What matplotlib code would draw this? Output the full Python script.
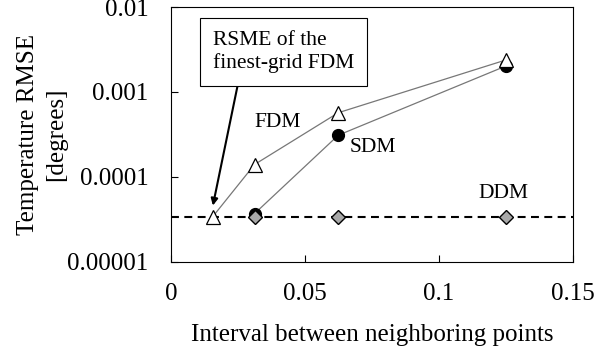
import matplotlib as mpl
mpl.use('Agg')
import matplotlib.pyplot as plt

# data
fdm_x = [0.015625, 0.03125, 0.0625, 0.125]
fdm_y = [3.4e-5, 1.4e-4, 5.7e-4, 2.38e-3]

sdm_x = [0.03125, 0.0625, 0.125]
sdm_y = [3.7e-5, 3.1e-4, 2.02e-3]

ddm_x = [0.03125, 0.0625, 0.125]
ddm_y = [3.4e-5, 3.4e-5, 3.4e-5]

finest_fdm = 3.4e-5

xticks = [0, 0.05, 0.1, 0.15]
xtick_labels = ['0', '0.05', '0.1', '0.15']
yticks = [1e-5, 1e-4, 1e-3, 1e-2]
ytick_labels = ['0.00001', '0.0001', '0.001', '0.01']

plt.rcParams['font.family'] = ['Liberation Serif', 'DejaVu Serif']
fs = 18      # axis text
fs_in = 15.5  # text inside the plot

fig = plt.figure(figsize=(6.1, 3.52), dpi=100)
ax = fig.add_axes([0.280, 0.256, 0.659, 0.724])

ax.axhline(finest_fdm, color='black', ls=(0, (3.8, 2.6)), lw=1.5, zorder=1)

ax.plot(sdm_x, sdm_y, color='#777777', lw=0.9, marker='o', ms=8.5,
        mfc='black', mec='black', zorder=2)
ax.plot(ddm_x, ddm_y, ls='none', marker='D', ms=7, mfc='#a8a8a8',
        mec='black', mew=1.0, zorder=3)
ax.plot(fdm_x, fdm_y, color='#777777', lw=0.9, marker='^', ms=10,
        mfc='white', mec='black', mew=0.9, zorder=4)

ax.text(0.0397, 4.4e-4, 'FDM', fontsize=fs_in, ha='center', va='center')
ax.text(0.0753, 2.25e-4, 'SDM', fontsize=fs_in, ha='center', va='center')
ax.text(0.1243, 6.45e-5, 'DDM', fontsize=fs_in, ha='center', va='center')

ax.annotate('RSME of the\nfinest-grid FDM', xy=(0.0157, 4.6e-5),
            xytext=(0.0422, 2.95e-3), fontsize=fs_in, ha='center', va='center',
            multialignment='left', linespacing=1.25,
            bbox=dict(boxstyle='square,pad=0.6', fc='white', ec='black', lw=0.8),
            arrowprops=dict(arrowstyle='-|>', color='black', lw=1.5,
                            mutation_scale=10, relpos=(0.19, 0), shrinkA=0, shrinkB=0))

ax.set_yscale('log')
ax.set_xlim(0, 0.15)
ax.set_ylim(1e-5, 1e-2)
ax.set_xticks(xticks)
ax.set_xticklabels(xtick_labels, fontsize=fs)
ax.set_yticks(yticks)
ax.set_yticklabels(ytick_labels, fontsize=fs)
ax.minorticks_off()
ax.tick_params(direction='in', length=5, width=0.8)
ax.tick_params(axis='y', pad=16)
ax.tick_params(axis='x', pad=15)
for s in ax.spines.values():
    s.set_linewidth(0.8)

ax.set_xlabel('Interval between neighboring points', fontsize=fs, labelpad=14)
ax.set_ylabel('Temperature RMSE\n[degrees]', fontsize=fs, labelpad=0, linespacing=1.4)

fig.savefig('out.png', dpi=100)
